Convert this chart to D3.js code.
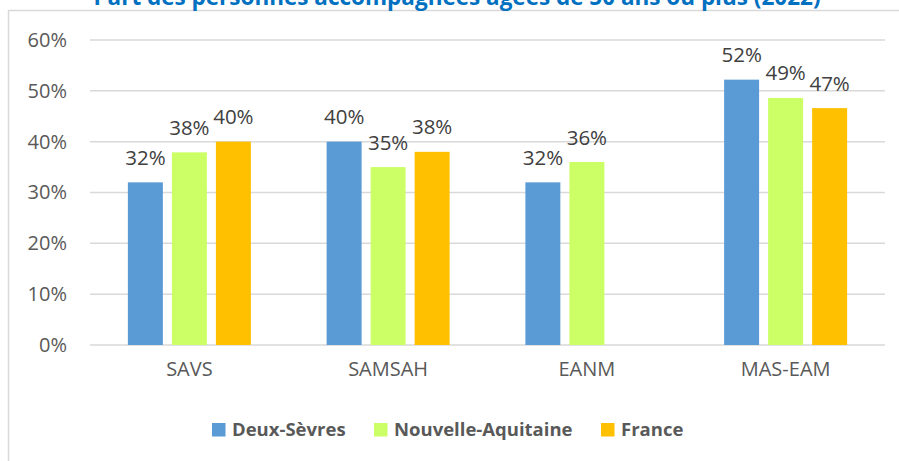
<!DOCTYPE html>
<html>
<head>
<meta charset="utf-8">
<script src="https://cdnjs.cloudflare.com/ajax/libs/d3/7.8.5/d3.min.js"></script>
<style>
  body { margin: 0; background: #fff; }
  svg { display: block; font-family: "Open Sans", sans-serif; }
</style>
</head>
<body>
<svg width="899" height="461"></svg>
<script>
var categories = ["SAVS", "SAMSAH", "EANM", "MAS-EAM"];
var series = ["Deux-Sèvres", "Nouvelle-Aquitaine", "France"];
var deuxSevres = [32, 40, 32, 52.2];
var nouvelleAquitaine = [37.9, 35, 36, 48.6];
var france = [40, 38, null, 46.6];
var yTicks = [0, 10, 20, 30, 40, 50, 60];
var colors = ["#5B9BD5", "#CCFF66", "#FFC000"];

var values = [deuxSevres, nouvelleAquitaine, france];
var data = categories.map(function(c, i) {
  return series.map(function(s, j) { return {cat: c, serie: s, value: values[j][i], k: j}; });
});

var svg = d3.select("svg");

// outer frame (cut at the right and bottom, like the source screenshot)
svg.append("rect")
    .attr("x", 8.5).attr("y", 10.5)
    .attr("width", 1000).attr("height", 1000)
    .attr("fill", "none")
    .attr("stroke", "#d9d9d9")
    .attr("stroke-width", 1.5);

// title: only its lower part shows at the top edge
svg.append("text")
    .attr("x", 457).attr("y", 5)
    .attr("text-anchor", "middle")
    .attr("fill", "#0070C0")
    .attr("font-weight", "bold")
    .attr("font-size", 22.5)
    .text("Part des personnes accompagnées âgées de 50 ans ou plus (2022)");

var x0 = d3.scaleBand().domain(categories).range([90, 885]);
var groupW = 123;
var x1 = d3.scaleBand().domain(series).range([0, groupW]).paddingInner(0.205);
var y = d3.scaleLinear().domain([0, 60]).range([345, 40]);

// gridlines
svg.append("g")
  .selectAll("line")
  .data(yTicks)
  .join("line")
    .attr("x1", 90).attr("x2", 885)
    .attr("y1", function(d) { return y(d); })
    .attr("y2", function(d) { return y(d); })
    .attr("stroke", "#d9d9d9")
    .attr("stroke-width", 1.5);

// y axis
var yAxis = d3.axisLeft(y).tickValues(yTicks).tickSize(0).tickPadding(0)
    .tickFormat(function(d) { return d + "%"; });
var yg = svg.append("g").attr("transform", "translate(67,0)").call(yAxis);
yg.select(".domain").remove();
yg.selectAll("text")
    .attr("font-family", "Open Sans, sans-serif")
    .attr("font-size", 20)
    .attr("fill", "#595959");

// x axis
var xAxis = d3.axisBottom(x0).tickSize(0).tickPadding(0);
var xg = svg.append("g").attr("transform", "translate(0,362)").call(xAxis);
xg.select(".domain").remove();
xg.selectAll("text")
    .attr("font-family", "Open Sans, sans-serif")
    .attr("font-size", 20)
    .attr("fill", "#595959");

// bars
var groups = svg.append("g").selectAll("g")
  .data(data)
  .join("g")
    .attr("transform", function(d) {
      return "translate(" + (x0(d[0].cat) + (x0.bandwidth() - groupW) / 2) + ",0)";
    });

var bars = groups.selectAll("g")
  .data(function(d) { return d.filter(function(e) { return e.value != null; }); })
  .join("g");

bars.append("rect")
    .attr("x", function(d) { return x1(d.serie); })
    .attr("y", function(d) { return y(d.value); })
    .attr("width", x1.bandwidth())
    .attr("height", function(d) { return y(0) - y(d.value); })
    .attr("fill", function(d) { return colors[d.k]; });

bars.append("text")
    .attr("x", function(d) { return x1(d.serie) + x1.bandwidth() / 2; })
    .attr("y", function(d) { return y(d.value) - 17.5; })
    .attr("text-anchor", "middle")
    .attr("font-size", 20.5)
    .attr("fill", "#404040")
    .text(function(d) { return Math.round(d.value) + "%"; });

// legend
var legendX = [212, 374, 601];
var legend = svg.append("g").selectAll("g")
  .data(series)
  .join("g")
    .attr("transform", function(d, i) { return "translate(" + legendX[i] + ",423)"; });
legend.append("rect")
    .attr("width", 13.5).attr("height", 13.5)
    .attr("fill", function(d, i) { return colors[i]; });
legend.append("text")
    .attr("x", 20).attr("y", 7)
    .attr("dy", "0.35em")
    .attr("font-size", 18.5)
    .attr("font-weight", "bold")
    .attr("fill", "#595959")
    .text(function(d) { return d; });
</script>
</body>
</html>
